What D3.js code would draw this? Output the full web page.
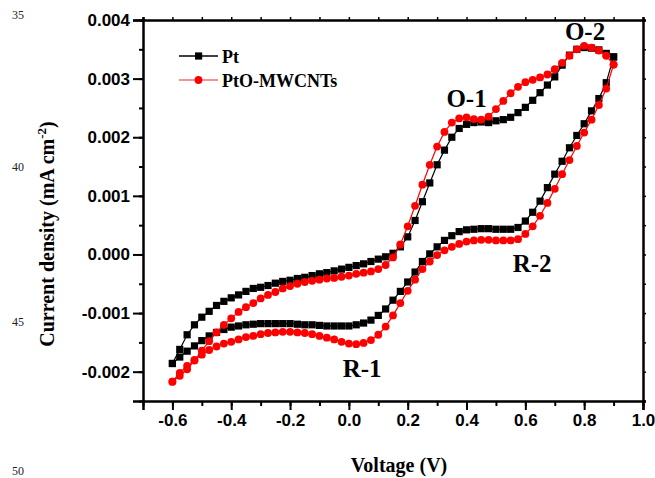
<!DOCTYPE html>
<html>
<head>
<meta charset="utf-8">
<script src="https://cdn.jsdelivr.net/npm/d3@7"></script>
<style>
  body { margin: 0; background: #fff; }
  svg { display: block; font-family: "Liberation Serif", "Times New Roman", serif; }
  .axis text { font-size: 17px; font-weight: bold; fill: #000; }
  .axis path, .axis line { stroke: #000; }
</style>
</head>
<body>
<svg id="chart"></svg>
<script>
// scan potential (V), shared by both branches
const voltage = [
  -0.6, -0.575, -0.55, -0.525, -0.5, -0.475, -0.45, -0.425, -0.4, -0.375,
  -0.35, -0.325, -0.3, -0.275, -0.25, -0.225, -0.2, -0.175, -0.15, -0.125,
  -0.1, -0.075, -0.05, -0.025, 0.0, 0.025, 0.05, 0.075, 0.1, 0.125,
  0.15, 0.175, 0.2, 0.225, 0.25, 0.275, 0.3, 0.325, 0.35, 0.375,
  0.4, 0.425, 0.45, 0.475, 0.5, 0.525, 0.55, 0.575, 0.6, 0.625,
  0.65, 0.675, 0.7, 0.725, 0.75, 0.775, 0.8, 0.825, 0.85, 0.875,
  0.9
];

// Pt, forward (anodic) scan
const ptAnodic = [
  -0.00186, -0.00162, -0.00137, -0.00120, -0.00107, -0.00097, -0.00087, -0.00080, -0.00074, -0.00069,
  -0.00063, -0.00058, -0.00056, -0.00053, -0.00049, -0.00046, -0.00044, -0.00041, -0.00039, -0.00036,
  -0.00033, -0.00031, -0.00028, -0.00025, -0.00022, -0.00019, -0.00016, -0.00012, -0.00008, -0.00004,
  0.00002, 0.00013, 0.00030, 0.00058, 0.00090, 0.00122, 0.00153, 0.00178, 0.00200, 0.00215,
  0.00222, 0.00225, 0.00226, 0.00225, 0.00228, 0.00230, 0.00234, 0.00242, 0.00251, 0.00263,
  0.00276, 0.00289, 0.00303, 0.00323, 0.00340, 0.00350, 0.00353, 0.00352, 0.00349, 0.00343,
  0.00337
];

// Pt, reverse (cathodic) scan, listed at the same potentials
const ptCathodic = [
  -0.00186, -0.00175, -0.00165, -0.00156, -0.00147, -0.00139, -0.00133, -0.00128, -0.00124, -0.00122,
  -0.00120, -0.00119, -0.00118, -0.00118, -0.00118, -0.00118, -0.00118, -0.00119, -0.00120, -0.00120,
  -0.00121, -0.00122, -0.00122, -0.00122, -0.00122, -0.00120, -0.00117, -0.00112, -0.00104, -0.00093,
  -0.00078, -0.00063, -0.00047, -0.00030, -0.00012, 0.00001, 0.00013, 0.00024, 0.00032, 0.00039,
  0.00042, 0.00043, 0.00044, 0.00044, 0.00043, 0.00043, 0.00043, 0.00046, 0.00057, 0.00072,
  0.00091, 0.00114, 0.00137, 0.00159, 0.00182, 0.00203, 0.00223, 0.00245, 0.00266, 0.00293,
  0.00337
];

// PtO-MWCNTs, forward scan
const ptoAnodic = [
  -0.00217, -0.00207, -0.00196, -0.00181, -0.00164, -0.00148, -0.00133, -0.00120, -0.00109, -0.00098,
  -0.00090, -0.00083, -0.00075, -0.00069, -0.00064, -0.00058, -0.00054, -0.00050, -0.00047, -0.00045,
  -0.00043, -0.00041, -0.00040, -0.00038, -0.00036, -0.00033, -0.00031, -0.00029, -0.00025, -0.00018,
  -0.00005, 0.00017, 0.00048, 0.00083, 0.00119, 0.00153, 0.00184, 0.00209, 0.00225, 0.00232,
  0.00234, 0.00231, 0.00230, 0.00235, 0.00248, 0.00262, 0.00275, 0.00286, 0.00294, 0.00298,
  0.00302, 0.00307, 0.00316, 0.00327, 0.00339, 0.00350, 0.00356, 0.00353, 0.00348, 0.00339,
  0.00324
];

// PtO-MWCNTs, reverse scan
const ptoCathodic = [
  -0.00217, -0.00202, -0.00190, -0.00180, -0.00171, -0.00163, -0.00157, -0.00152, -0.00149, -0.00145,
  -0.00141, -0.00139, -0.00136, -0.00134, -0.00133, -0.00132, -0.00132, -0.00133, -0.00134, -0.00136,
  -0.00139, -0.00142, -0.00145, -0.00149, -0.00152, -0.00153, -0.00151, -0.00146, -0.00137, -0.00123,
  -0.00104, -0.00083, -0.00062, -0.00043, -0.00025, -0.00012, -0.00001, 0.00007, 0.00013, 0.00018,
  0.00022, 0.00024, 0.00025, 0.00025, 0.00024, 0.00024, 0.00024, 0.00026, 0.00035, 0.00048,
  0.00066, 0.00088, 0.00112, 0.00137, 0.00161, 0.00185, 0.00208, 0.00230, 0.00255, 0.00283,
  0.00324
];

const seriesNames = ['Pt', 'PtO-MWCNTs'];
const xTicks = [-0.6, -0.4, -0.2, 0.0, 0.2, 0.4, 0.6, 0.8, 1.0];
const xMinorTicks = [-0.7, -0.6, -0.5, -0.4, -0.3, -0.2, -0.1, 0.0, 0.1, 0.2, 0.3, 0.4, 0.5, 0.6, 0.7, 0.8, 0.9, 1.0];
const yTicks = [-0.002, -0.001, 0.000, 0.001, 0.002, 0.003, 0.004];
const yMinorTicks = [-0.0025, -0.002, -0.0015, -0.001, -0.0005, 0, 0.0005, 0.001, 0.0015, 0.002, 0.0025, 0.003, 0.0035, 0.004];

// peak labels: [text, voltage, current]
const peakLabels = [
  ['O-1', 0.40, 0.00251],
  ['O-2', 0.803, 0.00366],
  ['R-1', 0.045, -0.00209],
  ['R-2', 0.623, -0.00030]
];

// page margin line numbers from the source document
const lineNumbers = [['35', 19], ['40', 171], ['45', 326], ['50', 475]];

class CVPlot {

  constructor(_config) {
    this.config = {
      parentElement: _config.parentElement,
      containerWidth: _config.containerWidth || 655,
      containerHeight: _config.containerHeight || 478,
      margin: _config.margin || {top: 20, right: 12, bottom: 77, left: 143}
    };
    this.initVis();
  }

  initVis() {
    let vis = this;

    vis.width = vis.config.containerWidth - vis.config.margin.left - vis.config.margin.right;
    vis.height = vis.config.containerHeight - vis.config.margin.top - vis.config.margin.bottom;

    vis.xScale = d3.scaleLinear()
        .domain([-0.7, 1.0])
        .range([0, vis.width]);

    vis.yScale = d3.scaleLinear()
        .domain([-0.0025, 0.004])
        .range([vis.height, 0]);

    vis.svg = d3.select(vis.config.parentElement)
        .attr('width', vis.config.containerWidth)
        .attr('height', vis.config.containerHeight);

    vis.svg.append('rect')
        .attr('width', vis.config.containerWidth)
        .attr('height', vis.config.containerHeight)
        .attr('fill', '#fff');

    vis.chart = vis.svg.append('g')
        .attr('transform', `translate(${vis.config.margin.left},${vis.config.margin.top})`);

    // minor ticks first, then the labelled major ones
    vis.chart.append('g')
        .attr('class', 'axis')
        .attr('transform', `translate(0,${vis.height})`)
        .call(d3.axisBottom(vis.xScale).tickValues(xMinorTicks).tickSize(5).tickFormat(''))
        .call(g => g.selectAll('line').attr('stroke-width', 2));

    vis.chart.append('g')
        .attr('class', 'axis')
        .attr('transform', `translate(0,${vis.height})`)
        .call(d3.axisBottom(vis.xScale).tickValues(xTicks).tickSize(9).tickPadding(4)
          .tickFormat(d => d.toFixed(1)))
        .call(g => g.select('.domain').attr('stroke-width', 2.5))
        .call(g => g.selectAll('line').attr('stroke-width', 2));

    vis.chart.append('g')
        .attr('class', 'axis')
        .call(d3.axisLeft(vis.yScale).tickValues(yMinorTicks).tickSize(4).tickFormat(''))
        .call(g => g.selectAll('line').attr('stroke-width', 2));

    vis.chart.append('g')
        .attr('class', 'axis')
        .call(d3.axisLeft(vis.yScale).tickValues(yTicks).tickSize(10).tickPadding(3)
          .tickFormat(d => d.toFixed(3)))
        .call(g => g.select('.domain').attr('stroke-width', 2.5))
        .call(g => g.selectAll('line').attr('stroke-width', 2));

    // mirrored top / right axes, no labels
    vis.chart.append('g')
        .attr('class', 'axis')
        .call(d3.axisTop(vis.xScale).tickValues(xMinorTicks).tickSize(3).tickFormat(''))
        .call(g => g.select('.domain').attr('stroke-width', 2.5))
        .call(g => g.selectAll('line').attr('stroke-width', 1.5));

    vis.chart.append('g')
        .attr('class', 'axis')
        .attr('transform', `translate(${vis.width},0)`)
        .call(d3.axisRight(vis.yScale).tickValues(yMinorTicks).tickSize(3).tickFormat(''))
        .call(g => g.select('.domain').attr('stroke-width', 2.5))
        .call(g => g.selectAll('line').attr('stroke-width', 1.5));

    // axis titles
    vis.svg.append('text')
        .attr('x', vis.config.margin.left + vis.width / 2 + 6)
        .attr('y', 472)
        .attr('text-anchor', 'middle')
        .style('font-size', '20px')
        .style('font-weight', 'bold')
        .text('Voltage (V)');

    const yTitle = vis.svg.append('text')
        .attr('transform', 'translate(54,234) rotate(-90)')
        .attr('text-anchor', 'middle')
        .style('font-size', '20px')
        .style('font-weight', 'bold');
    yTitle.append('tspan').text('Current density (mA cm');
    yTitle.append('tspan').attr('dy', -8).style('font-size', '13px').text('-2');
    yTitle.append('tspan').attr('dy', 8).text(')');

    vis.svg.selectAll('.line-no')
        .data(lineNumbers)
      .join('text')
        .attr('class', 'line-no')
        .attr('x', 12)
        .attr('y', d => d[1])
        .style('font-size', '12px')
        .style('fill', '#222')
        .text(d => d[0]);
  }

  updateVis() {
    let vis = this;
    // one closed loop per sample: forward sweep then back down
    const loop = (up, down) => voltage.map((v, i) => [v, up[i]])
        .concat(voltage.map((v, i) => [v, down[i]]).reverse());

    vis.series = [
      {name: seriesNames[0], color: '#000', shape: 'square', points: loop(ptAnodic, ptCathodic)},
      {name: seriesNames[1], color: '#ff0000', shape: 'circle', points: loop(ptoAnodic, ptoCathodic)}
    ];
    vis.renderVis();
  }

  renderVis() {
    let vis = this;

    const line = d3.line()
        .x(d => vis.xScale(d[0]))
        .y(d => vis.yScale(d[1]));

    const groups = vis.chart.selectAll('.series')
        .data(vis.series)
      .join('g')
        .attr('class', 'series');

    groups.append('path')
        .attr('d', d => line(d.points))
        .attr('fill', 'none')
        .attr('stroke', d => d.color)
        .attr('stroke-width', 1.2);

    groups.filter(d => d.shape === 'square').selectAll('rect')
        .data(d => d.points)
      .join('rect')
        .attr('x', d => vis.xScale(d[0]) - 3.6)
        .attr('y', d => vis.yScale(d[1]) - 3.6)
        .attr('width', 7.2)
        .attr('height', 7.2)
        .attr('fill', '#000');

    groups.filter(d => d.shape === 'circle').selectAll('circle')
        .data(d => d.points)
      .join('circle')
        .attr('cx', d => vis.xScale(d[0]))
        .attr('cy', d => vis.yScale(d[1]))
        .attr('r', 3.9)
        .attr('fill', '#ff0000');

    // legend
    const legend = vis.chart.append('g')
        .attr('transform', 'translate(36,36)');
    const item = legend.selectAll('g')
        .data(vis.series)
      .join('g')
        .attr('transform', (d, i) => `translate(0,${i * 24})`);
    item.append('line')
        .attr('x1', 0).attr('x2', 39)
        .attr('stroke', d => d.shape === 'circle' ? '#ff6a6a' : '#000')
        .attr('stroke-width', 1.3);
    item.filter(d => d.shape === 'square').append('rect')
        .attr('x', 16).attr('y', -3.6).attr('width', 7.2).attr('height', 7.2)
        .attr('fill', '#000');
    item.filter(d => d.shape === 'circle').append('circle')
        .attr('cx', 19.5).attr('r', 3.9)
        .attr('fill', '#ff0000');
    item.append('text')
        .attr('x', 43)
        .attr('y', 7)
        .style('font-size', '18px')
        .style('font-weight', 'bold')
        .text(d => d.name);

    // peak annotations
    vis.chart.selectAll('.peak')
        .data(peakLabels)
      .join('text')
        .attr('class', 'peak')
        .attr('x', d => vis.xScale(d[1]))
        .attr('y', d => vis.yScale(d[2]))
        .attr('text-anchor', 'middle')
        .style('font-size', '25px')
        .style('font-weight', 'bold')
        .text(d => d[0]);
  }
}

const cv = new CVPlot({parentElement: '#chart'});
cv.updateVis();
</script>
</body>
</html>
